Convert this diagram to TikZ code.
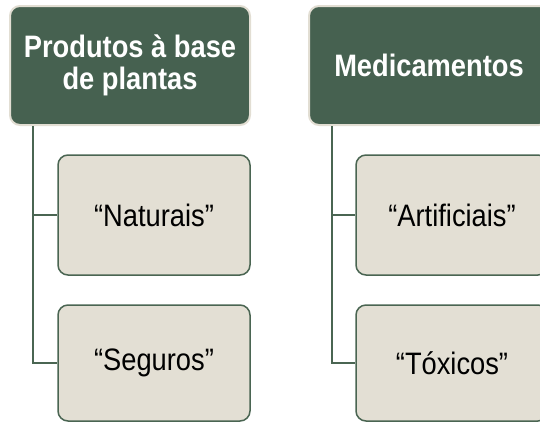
\documentclass[tikz,border=0pt]{standalone}
\usepackage{fontspec}
\setmainfont[FakeStretch=0.88]{Liberation Sans}
\usepackage{xcolor}
\definecolor{headgreen}{HTML}{466150}
\definecolor{headrim}{HTML}{E2DED3}
\definecolor{itemfill}{HTML}{E3DFD4}
\definecolor{itemrim}{HTML}{4A6552}

\begin{document}
\begin{tikzpicture}[x=1pt, y=-1pt]
      % Define styles
      \tikzset{
        header/.style={draw=headrim, line width=2pt, fill=headgreen, rounded corners=10pt,
          minimum width=240pt, minimum height=119pt, text=white, align=center,
          font=\fontsize{31}{32}\selectfont\bfseries},
        item/.style={draw=itemrim, line width=1.5pt, fill=itemfill, rounded corners=10pt,
          minimum width=192pt, minimum height=120pt, text=black,
          font=\fontsize{31}{32}\selectfont},
        link/.style={itemrim, line width=1.8pt}
      }
      % Frame of the page
      \useasboundingbox (0,0) rectangle (540,421);
      \clip (0,0) rectangle (540,421);
      % Left column: plant products
      \node[header] (plant) at (130,65.5) {Produtos à base\\de plantas};
      \node[item] (natural) at (154,215) {“Naturais”};
      \node[item, minimum height=116pt] (safe) at (154,363) {“Seguros”};
      % Right column: medicines
      \node[header] (drug) at (429,65.5) {Medicamentos};
      \node[item] (artificial) at (452,215) {“Artificiais”};
      \node[item, minimum height=116pt] (toxic) at (452,363) {“Tóxicos”};
      % Tree connectors
      \draw[link] ([xshift=24pt]plant.south west) |- (natural.west);
      \draw[link] ([xshift=24pt]plant.south west) |- (safe.west);
      \draw[link] ([xshift=24pt]drug.south west) |- (artificial.west);
      \draw[link] ([xshift=24pt]drug.south west) |- (toxic.west);
    \end{tikzpicture}
\end{document}
